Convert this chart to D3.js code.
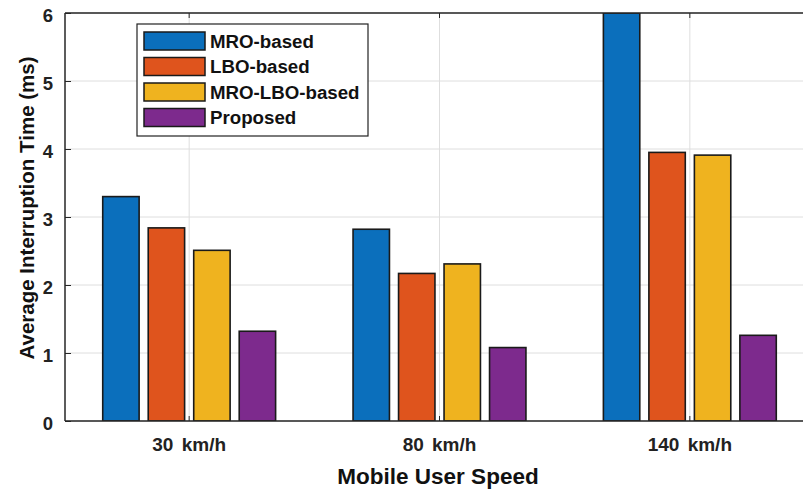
<!DOCTYPE html>
<html>
<head>
<meta charset="utf-8">
<script src="https://cdn.jsdelivr.net/npm/d3@7"></script>
<style>
  html, body { margin: 0; padding: 0; background: #fff; }
  svg { display: block; font-family: "Liberation Sans", Arial, sans-serif; }
</style>
</head>
<body>
<svg id="chart" width="803" height="489"></svg>
<script>
// Speeds on the x axis
const categories = ["30 km/h", "80 km/h", "140 km/h"];
// Handover schemes (legend order)
const seriesNames = ["MRO-based", "LBO-based", "MRO-LBO-based", "Proposed"];
// Average interruption time (ms), one array per scheme, in category order
const mroBased    = [3.30, 2.82, 6.00];
const lboBased    = [2.84, 2.17, 3.95];
const mroLboBased = [2.51, 2.31, 3.91];
const proposed    = [1.32, 1.08, 1.26];
const yTicks = [0, 1, 2, 3, 4, 5, 6];
const seriesColors = ["#0b6fbc", "#df541d", "#efb31f", "#7d2a8d"];

const seriesValues = [mroBased, lboBased, mroLboBased, proposed];

const svg = d3.select("#chart");
const plotLeft = 65, plotTop = 13, plotBottom = 421, plotRight = 803;

const x = d3.scaleBand().domain(categories).range([64, 815]).padding(0);
const y = d3.scaleLinear().domain([0, 6]).range([plotBottom, plotTop]);
// grouped bars occupy ~72.7% of each category slot
const groupWidth = x.bandwidth() * 0.727;
const xInner = d3.scaleBand().domain(seriesNames)
  .range([-groupWidth / 2, groupWidth / 2])
  .paddingInner(0.2).paddingOuter(0.1);

const defs = svg.append("defs");
defs.append("clipPath").attr("id", "plotClip")
  .append("rect").attr("x", plotLeft).attr("y", plotTop)
  .attr("width", plotRight - plotLeft).attr("height", plotBottom - plotTop);

// grid
const grid = svg.append("g").attr("stroke", "#dedede").attr("stroke-width", 1);
yTicks.forEach(t => {
  grid.append("line").attr("x1", plotLeft).attr("x2", plotRight)
    .attr("y1", y(t)).attr("y2", y(t));
});
categories.forEach(c => {
  const cx = x(c) + x.bandwidth() / 2;
  grid.append("line").attr("x1", cx).attr("x2", cx)
    .attr("y1", plotTop).attr("y2", plotBottom);
});

// bars
const bars = svg.append("g").attr("clip-path", "url(#plotClip)");
categories.forEach((c, ci) => {
  const cx = x(c) + x.bandwidth() / 2;
  seriesNames.forEach((s, si) => {
    const v = seriesValues[si][ci];
    bars.append("rect")
      .attr("x", cx + xInner(s))
      .attr("y", y(v))
      .attr("width", xInner.bandwidth())
      .attr("height", y(0) - y(v))
      .attr("fill", seriesColors[si])
      .attr("stroke", "#1a1a1a")
      .attr("stroke-width", 1.6);
  });
});

// axes
const axisColor = "#262626";
const yAxis = d3.axisLeft(y).tickValues(yTicks).tickSize(-6).tickPadding(12)
  .tickFormat(d3.format("d"));
const gy = svg.append("g").attr("transform", `translate(${plotLeft},0)`).call(yAxis);
gy.select(".domain").remove();
gy.selectAll(".tick line").attr("stroke", axisColor);
gy.selectAll(".tick text").attr("fill", "#222").attr("font-size", 18.5)
  .attr("font-weight", "bold").attr("dy", "0.45em");

const xAxis = d3.axisBottom(x).tickSize(-5).tickPadding(17);
const gx = svg.append("g").attr("transform", `translate(0,${plotBottom})`).call(xAxis);
gx.select(".domain").remove();
gx.selectAll(".tick line").attr("stroke", axisColor);
gx.selectAll(".tick text").attr("fill", "#222").attr("font-size", 19)
  .attr("font-weight", "bold").attr("word-spacing", 3);

// top tick marks
categories.forEach(c => {
  const cx = x(c) + x.bandwidth() / 2;
  svg.append("line").attr("x1", cx).attr("x2", cx)
    .attr("y1", plotTop).attr("y2", plotTop + 5).attr("stroke", axisColor);
});

// axes box lines
svg.append("line").attr("x1", plotLeft).attr("x2", plotLeft)
  .attr("y1", plotTop).attr("y2", plotBottom).attr("stroke", axisColor).attr("stroke-width", 1.5);
svg.append("line").attr("x1", plotLeft).attr("x2", plotRight)
  .attr("y1", plotBottom).attr("y2", plotBottom).attr("stroke", axisColor).attr("stroke-width", 1.5);
svg.append("line").attr("x1", plotLeft).attr("x2", plotRight)
  .attr("y1", plotTop).attr("y2", plotTop).attr("stroke", axisColor).attr("stroke-width", 1.5);

// axis titles
svg.append("text").attr("x", 438).attr("y", 484)
  .attr("text-anchor", "middle").attr("font-size", 22.5).attr("font-weight", "bold")
  .attr("fill", "#111").text("Mobile User Speed");
svg.append("text").attr("transform", "translate(34,208) rotate(-90)")
  .attr("text-anchor", "middle").attr("font-size", 20.5).attr("font-weight", "bold")
  .attr("fill", "#111").text("Average Interruption Time (ms)");

// legend
const legend = svg.append("g");
legend.append("rect").attr("x", 137).attr("y", 24).attr("width", 231).attr("height", 112)
  .attr("fill", "#fff").attr("stroke", "#222").attr("stroke-width", 1.2);
seriesNames.forEach((s, i) => {
  const cy = 41 + i * 25.5;
  legend.append("rect").attr("x", 144).attr("y", cy - 9).attr("width", 61).attr("height", 18)
    .attr("fill", seriesColors[i]).attr("stroke", "#1a1a1a").attr("stroke-width", 1.5);
  legend.append("text").attr("x", 210).attr("y", cy).attr("dy", "0.36em")
    .attr("font-size", 18.7).attr("font-weight", "bold").attr("fill", "#111").text(s);
});
</script>
</body>
</html>
